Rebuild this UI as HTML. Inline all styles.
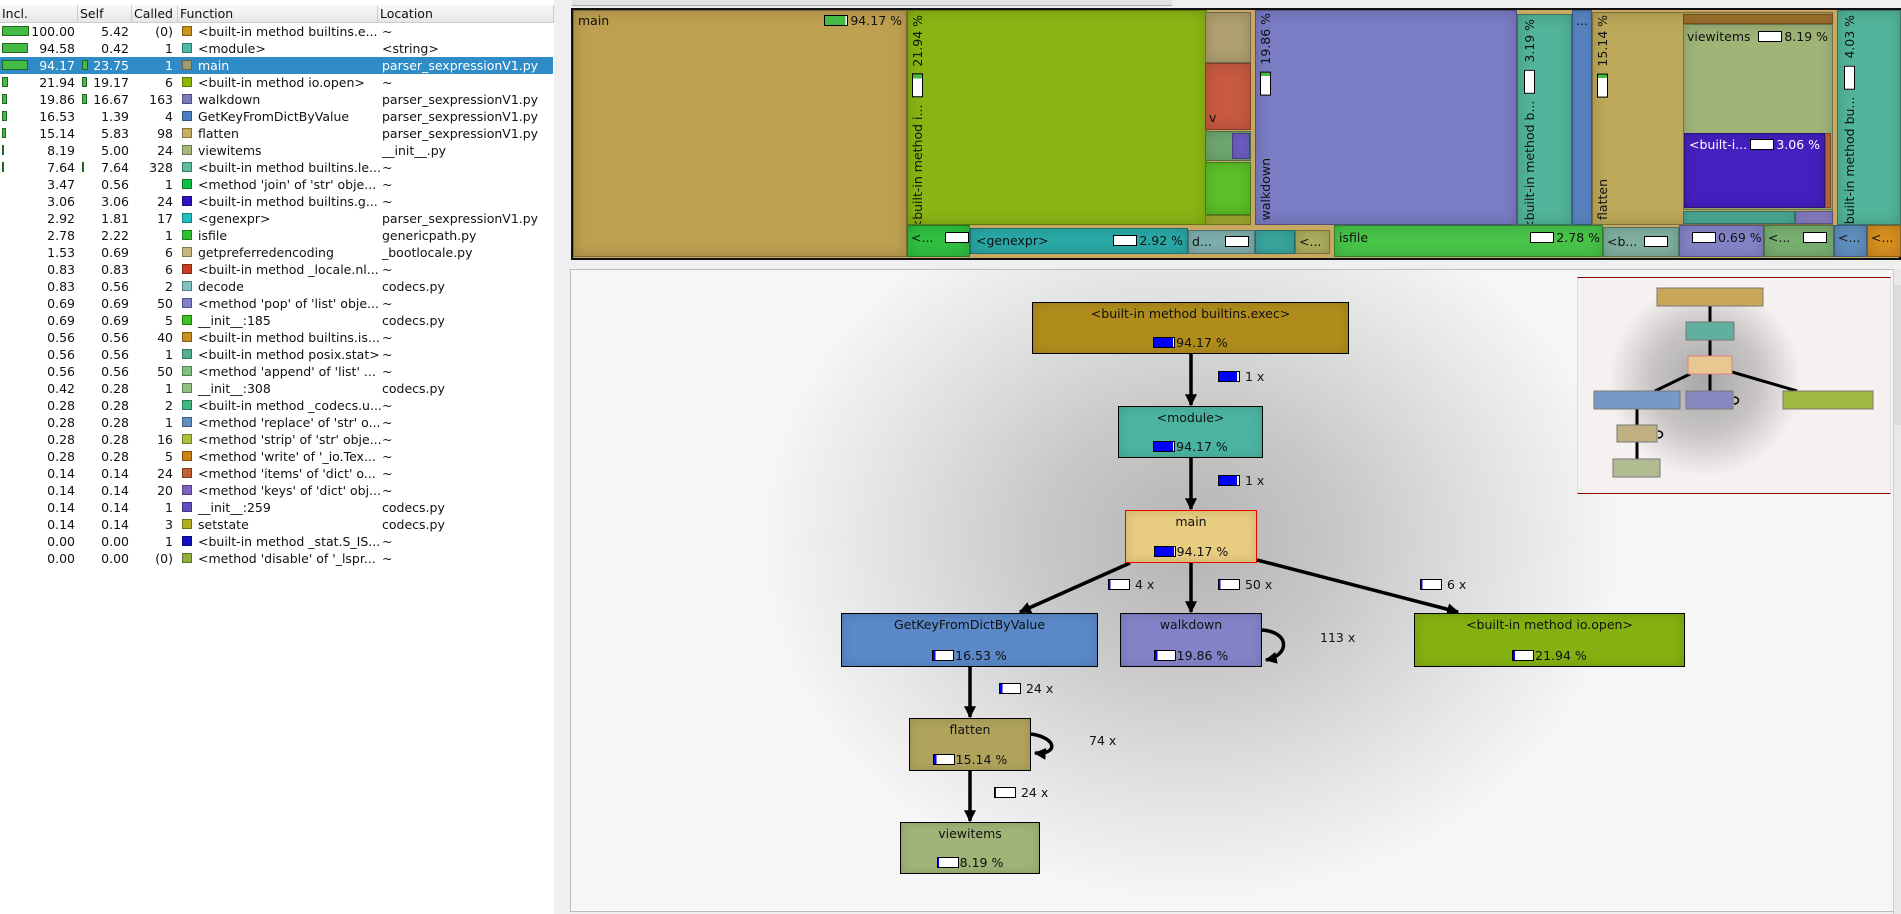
<!DOCTYPE html>
<html><head><meta charset="utf-8">
<style>
*{margin:0;padding:0;box-sizing:border-box}
body{width:1901px;height:914px;position:relative;background:#efefef;font-family:"DejaVu Sans","Liberation Sans",sans-serif;font-size:12.5px;color:#111;overflow:hidden}
.a{position:absolute}
#left{left:0;top:0;width:554px;height:914px;background:#fff}
.hd{top:5px;height:18px;background:linear-gradient(#fafafa,#e6e6e6);border-right:1px solid #ccc;border-bottom:1px solid #ccc;padding-left:2px;line-height:17px}
.row{left:0;width:553px;height:17px;line-height:17px}
.row span{position:absolute;white-space:nowrap}
.r{text-align:right}
.sq{width:10px;height:10px;top:3px;border:1px solid rgba(0,0,0,.35)}
.bar{top:3px;height:10px;background:#44bb44;border:1px solid #226622}
.sel{background:#308cc6;color:#fff}
.tm{position:absolute;border:1px solid rgba(0,0,0,.35);overflow:hidden;box-shadow:inset 0 0 14px rgba(0,0,0,.18)}
.tl{position:absolute;white-space:nowrap;font-size:12.5px}
.vt{position:absolute;writing-mode:vertical-rl;transform:rotate(180deg);white-space:nowrap;font-size:12.5px}
.pb{display:inline-block;width:24px;height:11px;background:#fff;border:1px solid #000;vertical-align:-1px;margin-right:2px}
.vb{display:inline-block;width:11px;height:24px;background:#fff;border:1px solid #000;margin:3px 0}
.node{position:absolute;border:1.5px solid #000;text-align:center;font-size:12.5px;box-shadow:inset 0 0 10px rgba(0,0,0,.15)}
.node .t{position:absolute;top:3px;left:0;right:0}
.node .p{position:absolute;bottom:3px;left:0;right:0}
.gb{display:inline-block;width:22px;height:11px;border:1px solid #000;background:#fff;vertical-align:-1px;margin-right:1px;position:relative}
.el{position:absolute;font-size:12.5px;white-space:nowrap}
</style></head><body>

<div id="left" class="a">
<div class="a hd" style="left:0;width:78px">Incl.</div>
<div class="a hd" style="left:78px;width:54px">Self</div>
<div class="a hd" style="left:132px;width:46px">Called</div>
<div class="a hd" style="left:178px;width:200px">Function</div>
<div class="a hd" style="left:378px;width:176px">Location</div>
<div id="rows"></div>
</div>
<div class="a" style="left:554px;top:0;width:16px;height:914px;background:#efefef"></div>

<!-- tabs -->
<div class="a" style="left:572px;top:0;width:600px;height:6px;background:#e3e3e3;border-bottom:1px solid #aaa"></div>

<!-- treemap -->
<div class="a" style="left:571px;top:8px;width:1330px;height:252px;border:2px solid #111;background:#c8a860"></div>
<div class="tm" style="left:573px;top:10px;width:334px;height:247px;background:#bea050"><span class="tl" style="left:4px;top:2px">main</span><span class="tl" style="right:4px;top:2px"><span class="pb" style="background:linear-gradient(90deg,#44bb44 94%,#fff 94%)"></span>94.17 %</span></div>
<div class="tm" style="left:907px;top:10px;width:300px;height:215px;background:#8ab414"><span class="vt" style="left:2px;top:4px">&lt;built-in method i... <span class="vb" style="background:linear-gradient(0deg,#44bb44 20%,#fff 20%)"></span> 21.94 %</span></div>
<div class="tm" style="left:1205px;top:12px;width:46px;height:51px;background:#b0a070"></div>
<div class="tm" style="left:1205px;top:63px;width:46px;height:67px;background:#c85a40"><span class="tl" style="left:3px;top:46px">v</span></div>
<div class="tm" style="left:1205px;top:131px;width:46px;height:30px;background:#70a870"></div>
<div class="tm" style="left:1232px;top:133px;width:18px;height:26px;background:#7060c8"></div>
<div class="tm" style="left:1205px;top:162px;width:46px;height:53px;background:#5cc028"></div>
<div class="tm" style="left:1205px;top:215px;width:46px;height:10px;background:#a8b030"></div>

<div class="tm" style="left:1255px;top:10px;width:262px;height:215px;background:#7a7cc4"><span class="vt" style="left:2px;bottom:4px">walkdown</span><span class="vt" style="left:2px;top:2px"><span class="vb" style="background:linear-gradient(0deg,#44bb44 15%,#fff 15%)"></span> 19.86 %</span></div>
<div class="tm" style="left:1517px;top:14px;width:55px;height:211px;background:#52b49a"><span class="vt" style="left:4px;top:4px">&lt;built-in method b... <span class="vb"></span> 3.19 %</span></div>
<div class="tm" style="left:1572px;top:10px;width:20px;height:215px;background:#5a88c8"><span class="tl" style="left:3px;top:2px">...</span></div>
<div class="tm" style="left:1592px;top:12px;width:241px;height:213px;background:#bca858"><span class="vt" style="left:2px;bottom:4px">flatten</span><span class="vt" style="left:2px;top:2px"><span class="vb" style="background:linear-gradient(0deg,#44bb44 15%,#fff 15%)"></span> 15.14 %</span></div>
<div class="tm" style="left:1683px;top:14px;width:150px;height:10px;background:#a87830"></div>
<div class="tm" style="left:1683px;top:24px;width:150px;height:186px;background:#a0b478"><span class="tl" style="left:3px;top:4px">viewitems</span><span class="tl" style="right:4px;top:4px"><span class="pb"></span>8.19 %</span></div>
<div class="tm" style="left:1684px;top:133px;width:141px;height:75px;background:#4420c0;color:#fff"><span class="tl" style="left:4px;top:3px">&lt;built-i...</span><span class="tl" style="right:4px;top:3px"><span class="pb"></span>3.06 %</span></div>
<div class="tm" style="left:1825px;top:133px;width:6px;height:75px;background:#d07040"></div>
<div class="tm" style="left:1683px;top:211px;width:112px;height:13px;background:#4cb09a"></div>
<div class="tm" style="left:1795px;top:211px;width:38px;height:13px;background:#8a80c8"></div>
<div class="tm" style="left:1837px;top:10px;width:64px;height:215px;background:#52b49a"><span class="vt" style="left:4px;top:4px">&lt;built-in method bu... <span class="vb"></span> 4.03 %</span></div>

<div class="tm" style="left:907px;top:225px;width:63px;height:32px;background:#30c040"><span class="tl" style="left:3px;top:4px">&lt;...</span><span class="pb a" style="left:37px;top:6px"></span></div>
<div class="tm" style="left:970px;top:228px;width:218px;height:26px;background:#2aaaa8"><span class="tl" style="left:5px;top:4px">&lt;genexpr&gt;</span><span class="tl" style="right:4px;top:4px"><span class="pb"></span>2.92 %</span></div>
<div class="tm" style="left:1188px;top:230px;width:67px;height:24px;background:#80b0b0"><span class="tl" style="left:3px;top:3px">d...</span><span class="pb a" style="left:36px;top:5px"></span></div>
<div class="tm" style="left:1255px;top:230px;width:40px;height:24px;background:#3aa8a0"></div>
<div class="tm" style="left:1295px;top:230px;width:35px;height:24px;background:#b0b060"><span class="tl" style="left:3px;top:3px">&lt;...</span></div>
<div class="tm" style="left:1334px;top:225px;width:269px;height:32px;background:#48c448"><span class="tl" style="left:4px;top:4px">isfile</span><span class="tl" style="right:2px;top:4px"><span class="pb"></span>2.78 %</span></div>
<div class="tm" style="left:1603px;top:227px;width:76px;height:30px;background:#80b0a0"><span class="tl" style="left:3px;top:6px">&lt;b...</span><span class="pb a" style="left:40px;top:8px"></span></div>
<div class="tm" style="left:1679px;top:225px;width:85px;height:32px;background:#8484c8"><span class="tl" style="left:12px;top:4px"><span class="pb"></span>0.69 %</span></div>
<div class="tm" style="left:1764px;top:225px;width:70px;height:32px;background:#78b070"><span class="tl" style="left:3px;top:4px">&lt;...</span><span class="pb a" style="left:38px;top:6px"></span></div>
<div class="tm" style="left:1834px;top:225px;width:33px;height:32px;background:#6090c0"><span class="tl" style="left:3px;top:4px">&lt;...</span></div>
<div class="tm" style="left:1867px;top:225px;width:34px;height:32px;background:#d89020"><span class="tl" style="left:3px;top:4px">&lt;...</span></div>

<!-- graph -->
<div class="a" style="left:570px;top:269px;width:1324px;height:643px;border:1px solid #bbb;background:radial-gradient(ellipse 430px 360px at 621px 270px,#b4b4b4 0%,#c8c8c8 35%,#e2e2e2 70%,#f6f6f6 100%);background-color:#f6f6f6"></div>
<div class="a" style="left:1893px;top:269px;width:8px;height:645px;background:#e8e8e8;border-left:1px solid #ccc"></div>
<div class="a" style="left:1894px;top:285px;width:7px;height:140px;background:#dcdcdc"></div>

<svg class="a" style="left:0;top:0" width="1901" height="914">
<defs>
<marker id="ah" viewBox="0 0 10 10" refX="9" refY="5" markerWidth="12" markerHeight="12" orient="auto" markerUnits="userSpaceOnUse"><path d="M0,0 L10,5 L0,10z"/></marker></defs>
<g stroke="#000" stroke-width="3.5" fill="none" marker-end="url(#ah)">
<line x1="1191" y1="354" x2="1191" y2="405"/>
<line x1="1191" y1="458" x2="1191" y2="509"/>
<line x1="1130" y1="563" x2="1020" y2="612"/>
<line x1="1191" y1="563" x2="1191" y2="612"/>
<line x1="1257" y1="560" x2="1458" y2="612"/>
<line x1="970" y1="667" x2="970" y2="717"/>
<line x1="970" y1="771" x2="970" y2="821"/>
<path d="M1262,630 C1290,632 1290,655 1266,660"/>
<path d="M1031,734 C1058,738 1058,755 1035,753"/>
</g>
</svg>

<div class="node" style="left:1032px;top:302px;width:317px;height:52px;background:#b08c1c"><div class="t">&lt;built-in method builtins.exec&gt;</div><div class="p"><span class="gb" style="background:linear-gradient(90deg,#00f 94%,#fff 94%)"></span>94.17 %</div></div>
<div class="node" style="left:1118px;top:406px;width:145px;height:52px;background:#4ab4a0"><div class="t">&lt;module&gt;</div><div class="p"><span class="gb" style="background:linear-gradient(90deg,#00f 94%,#fff 94%)"></span>94.17 %</div></div>
<div class="node" style="left:1125px;top:510px;width:132px;height:53px;background:#e8cc80;border-color:#e00"><div class="t">main</div><div class="p"><span class="gb" style="background:linear-gradient(90deg,#00f 94%,#fff 94%)"></span>94.17 %</div></div>
<div class="node" style="left:841px;top:613px;width:257px;height:54px;background:#5a88c8"><div class="t">GetKeyFromDictByValue</div><div class="p"><span class="gb" style="background:linear-gradient(90deg,#00f 12%,#fff 12%)"></span>16.53 %</div></div>
<div class="node" style="left:1120px;top:613px;width:142px;height:54px;background:#8282c8"><div class="t">walkdown</div><div class="p"><span class="gb" style="background:linear-gradient(90deg,#00f 12%,#fff 12%)"></span>19.86 %</div></div>
<div class="node" style="left:1414px;top:613px;width:271px;height:54px;background:#84b010"><div class="t">&lt;built-in method io.open&gt;</div><div class="p"><span class="gb" style="background:linear-gradient(90deg,#00f 10%,#fff 10%)"></span>21.94 %</div></div>
<div class="node" style="left:909px;top:718px;width:122px;height:53px;background:#b0a45c"><div class="t">flatten</div><div class="p"><span class="gb" style="background:linear-gradient(90deg,#00f 12%,#fff 12%)"></span>15.14 %</div></div>
<div class="node" style="left:900px;top:822px;width:140px;height:52px;background:#a0b478"><div class="t">viewitems</div><div class="p"><span class="gb" style="background:linear-gradient(90deg,#00f 6%,#fff 6%)"></span>8.19 %</div></div>

<div class="el" style="left:1218px;top:369px"><span class="gb" style="background:linear-gradient(90deg,#00f 90%,#fff 90%)"></span> 1 x</div>
<div class="el" style="left:1218px;top:473px"><span class="gb" style="background:linear-gradient(90deg,#00f 90%,#fff 90%)"></span> 1 x</div>
<div class="el" style="left:1108px;top:577px"><span class="gb" style="background:linear-gradient(90deg,#00f 8%,#fff 8%)"></span> 4 x</div>
<div class="el" style="left:1218px;top:577px"><span class="gb" style="background:linear-gradient(90deg,#00f 8%,#fff 8%)"></span> 50 x</div>
<div class="el" style="left:1420px;top:577px"><span class="gb" style="background:linear-gradient(90deg,#00f 8%,#fff 8%)"></span> 6 x</div>
<div class="el" style="left:1320px;top:630px">113 x</div>
<div class="el" style="left:999px;top:681px"><span class="gb" style="background:linear-gradient(90deg,#00f 12%,#fff 12%)"></span> 24 x</div>
<div class="el" style="left:1089px;top:733px">74 x</div>
<div class="el" style="left:994px;top:785px"><span class="gb" style="background:linear-gradient(90deg,#00f 6%,#fff 6%)"></span> 24 x</div>

<!-- minimap -->
<div class="a" style="left:1577px;top:277px;width:314px;height:217px;background:#f6f1f1;border-top:1px solid #800;border-bottom:1px solid #800;border-left:1px solid #ddd;border-right:1px solid #ddd"></div>
<div class="a" style="left:1610px;top:285px;width:190px;height:190px;border-radius:50%;background:radial-gradient(circle,#a8a8a8 0%,#c8c4c4 40%,rgba(246,241,241,0) 72%)"></div>
<svg class="a" style="left:0;top:0" width="1901" height="914">
<g stroke="#000" stroke-width="3"><line x1="1710" y1="306" x2="1710" y2="322"/><line x1="1710" y1="340" x2="1710" y2="356"/><line x1="1690" y1="374" x2="1655" y2="391"/><line x1="1710" y1="374" x2="1710" y2="391"/><line x1="1732" y1="372" x2="1797" y2="391"/><line x1="1637" y1="409" x2="1637" y2="425"/><line x1="1637" y1="442" x2="1637" y2="459"/></g>
<g stroke="#000" stroke-width="1.5" fill="none"><path d="M1734,397 c6,0 6,7 0,7"/><path d="M1658,431 c6,0 6,7 0,7"/></g>
<g stroke="#777" stroke-width="1">
<rect x="1657" y="288" width="106" height="18" fill="#c8a858"/>
<rect x="1686" y="322" width="48" height="18" fill="#60b0a0"/>
<rect x="1688" y="356" width="44" height="18" fill="#e8c890" stroke="#e08080"/>
<rect x="1594" y="391" width="86" height="18" fill="#7898c8"/>
<rect x="1686" y="391" width="47" height="18" fill="#8888c0"/>
<rect x="1783" y="391" width="90" height="18" fill="#a0b840"/>
<rect x="1617" y="425" width="40" height="17" fill="#c0b080"/>
<rect x="1613" y="459" width="47" height="18" fill="#b0bc90"/>
</g></svg>

<script>
var d=[
["100.00","5.42","(0)","#c8941c","<built-in method builtins.e...","~",27,0],
["94.58","0.42","1","#4fb8a0","<module>","<string>",26,0],
["94.17","23.75","1","#a09a70","main","parser_sexpressionV1.py",26,6],
["21.94","19.17","6","#8cb800","<built-in method io.open>","~",6,5],
["19.86","16.67","163","#7a7ac0","walkdown","parser_sexpressionV1.py",5,5],
["16.53","1.39","4","#4a7ec0","GetKeyFromDictByValue","parser_sexpressionV1.py",5,0],
["15.14","5.83","98","#c8b060","flatten","parser_sexpressionV1.py",4,0],
["8.19","5.00","24","#a8b878","viewitems","__init__.py",2,0],
["7.64","7.64","328","#5cbca0","<built-in method builtins.le...","~",2,2],
["3.47","0.56","1","#10c040","<method 'join' of 'str' obje...","~",0,0],
["3.06","3.06","24","#3010c0","<built-in method builtins.g...","~",0,0],
["2.92","1.81","17","#20c0c0","<genexpr>","parser_sexpressionV1.py",0,0],
["2.78","2.22","1","#30c030","isfile","genericpath.py",0,0],
["1.53","0.69","6","#c8b880","getpreferredencoding","_bootlocale.py",0,0],
["0.83","0.83","6","#c84020","<built-in method _locale.nl...","~",0,0],
["0.83","0.56","2","#80c0c0","decode","codecs.py",0,0],
["0.69","0.69","50","#8080c8","<method 'pop' of 'list' obje...","~",0,0],
["0.69","0.69","5","#40c020","__init__:185","codecs.py",0,0],
["0.56","0.56","40","#c89020","<built-in method builtins.is...","~",0,0],
["0.56","0.56","1","#50b090","<built-in method posix.stat>","~",0,0],
["0.56","0.56","50","#80c080","<method 'append' of 'list' ...","~",0,0],
["0.42","0.28","1","#90c080","__init__:308","codecs.py",0,0],
["0.28","0.28","2","#40b880","<built-in method _codecs.u...","~",0,0],
["0.28","0.28","1","#6090c0","<method 'replace' of 'str' o...","~",0,0],
["0.28","0.28","16","#b0c040","<method 'strip' of 'str' obje...","~",0,0],
["0.28","0.28","5","#d08010","<method 'write' of '_io.Tex...","~",0,0],
["0.14","0.14","24","#c06030","<method 'items' of 'dict' o...","~",0,0],
["0.14","0.14","20","#8060c0","<method 'keys' of 'dict' obj...","~",0,0],
["0.14","0.14","1","#6050c0","__init__:259","codecs.py",0,0],
["0.14","0.14","3","#b0b020","setstate","codecs.py",0,0],
["0.00","0.00","1","#1010c0","<built-in method _stat.S_IS...","~",0,0],
["0.00","0.00","(0)","#90b040","<method 'disable' of '_lspr...","~",0,0]];
var h="";
function esc(s){return s.replace(/&/g,"&amp;").replace(/</g,"&lt;").replace(/>/g,"&gt;");}
d.forEach(function(r,i){
 var y=23+i*17;
 h+='<div class="a row'+(i==2?' sel':'')+'" style="top:'+y+'px">';
 if(r[6])h+='<span class="bar" style="left:2px;width:'+r[6]+'px"></span>';
 if(r[7])h+='<span class="bar" style="left:82px;width:'+r[7]+'px"></span>';
 h+='<span class="r" style="right:478px">'+r[0]+'</span>';
 h+='<span class="r" style="right:424px">'+r[1]+'</span>';
 h+='<span class="r" style="right:380px">'+r[2]+'</span>';
 h+='<span class="sq" style="left:182px;background:'+r[3]+'"></span>';
 h+='<span style="left:198px">'+esc(r[4])+'</span>';
 h+='<span style="left:382px">'+esc(r[5])+'</span></div>';
});
document.getElementById("rows").innerHTML=h;
</script>
</body></html>
